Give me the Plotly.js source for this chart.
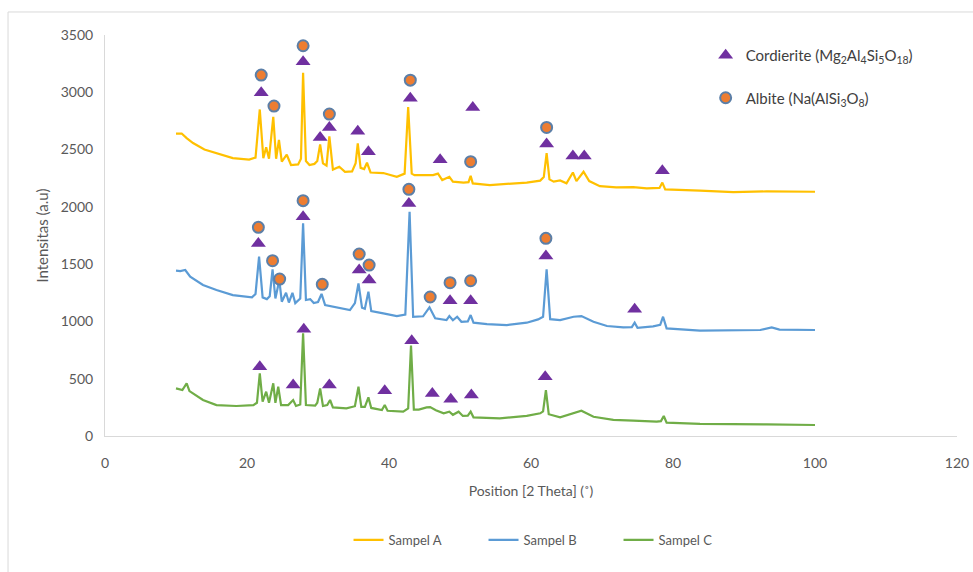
<!DOCTYPE html>
<html>
<head>
<meta charset="utf-8">
<script src="https://cdn.plot.ly/plotly-3.0.1.min.js"></script>
<style>html,body{margin:0;padding:0;background:#fff;}#chart{width:973px;height:572px;}</style>
</head>
<body>
<div id="chart"></div>
<script>
// Sample A (yellow)
const aX = [10,10.8,11.5,12.4,14,15.7,18,20.3,21.2,21.8,22.3,22.7,23.1,23.7,24.1,24.5,24.9,25.6,26.2,27.2,27.6,27.9,28.3,28.8,29.5,29.9,30.3,30.7,31.2,31.6,32.1,33,33.8,34.8,35.3,35.6,36.0,36.5,36.9,37.4,39.2,41.1,42.2,42.7,43.2,43.6,44.8,46.2,46.9,47.5,48.5,49,50.5,51.2,51.5,51.8,54.2,57,59.4,61.3,61.8,62.2,62.6,63.2,64.1,65,65.9,66.4,67.4,68.2,69.7,72,74.4,76.3,78.1,78.5,78.9,83.8,88.5,93.2,100];
const aY = [2640,2640,2600,2557,2500,2467,2426,2412,2430,2850,2425,2520,2420,2785,2420,2585,2395,2455,2365,2370,2420,3170,2400,2365,2375,2400,2545,2380,2360,2615,2325,2350,2306,2310,2380,2555,2340,2330,2385,2300,2295,2263,2290,2870,2290,2277,2277,2277,2290,2234,2262,2220,2212,2215,2270,2205,2190,2199,2212,2229,2260,2470,2240,2220,2230,2205,2300,2225,2306,2225,2181,2170,2172,2161,2165,2212,2153,2141,2129,2135,2132];
// Sample B (blue)
const bX = [10,10.6,11.3,12,13.8,15.7,18,20.7,21.2,21.7,22.2,22.8,23.2,23.6,24.0,24.55,24.9,25.5,25.9,26.4,26.8,27.5,27.9,28.3,28.9,29.4,30.0,30.5,31.0,33.1,34.5,35.2,35.7,36.2,36.6,37.1,37.5,39.2,41.1,42.3,42.9,43.4,44.8,45.7,46.5,48.1,48.5,49.0,49.6,50.2,51.1,51.5,51.9,53.8,56.6,59.4,61.0,61.7,62.2,62.7,64.1,66.0,67.1,68.8,70.7,73.0,74.2,74.6,75.0,77.2,78.2,78.6,79.1,83.8,88.5,92.3,93.9,95,100];
const bY = [1443,1440,1449,1390,1318,1274,1230,1210,1240,1565,1210,1195,1220,1455,1200,1360,1172,1250,1165,1250,1160,1200,1856,1187,1195,1160,1170,1240,1143,1114,1099,1160,1332,1120,1110,1260,1090,1070,1047,1060,1957,1041,1045,1123,1027,1012,1047,1010,1041,997,1000,1056,989,977,968,989,1018,1040,1454,1020,1012,1041,1047,997,960,948,950,989,945,957,970,1041,939,919,919,925,948,928,925];
// Sample C (green)
const cX = [10,10.9,11.5,11.9,13.8,15.7,18.5,20.9,21.4,21.8,22.2,22.7,23.1,23.7,24.0,24.4,24.8,25.8,26.5,26.9,27.5,27.9,28.3,29.6,29.9,30.3,30.7,31.3,31.7,32.1,34.0,35.2,35.7,36.1,36.6,37.1,37.5,39.0,39.4,39.8,42.0,42.7,43.1,43.5,44.2,45.3,45.8,46.6,47.7,48.5,49.0,49.8,50.4,51.1,51.5,51.9,55.6,59.4,61.3,61.7,62.1,62.5,64.1,66.0,67.1,68.8,71.6,74.4,77.7,78.3,78.7,79.1,83.8,93.2,100];
const cY = [416,401,460,392,314,270,262,270,290,547,299,387,290,460,290,430,270,270,314,262,275,896,270,265,290,416,262,270,314,250,241,260,430,255,255,337,245,227,270,220,212,240,790,230,230,250,252,225,198,212,185,212,175,178,212,163,154,175,198,215,401,190,163,198,221,168,140,134,125,130,175,116,105,102,96];

// Phase markers (Cordierite = triangles, Albite = circles)
const cordAX = [22.0,27.9,30.3,31.6,35.6,37.1,43.0,47.2,51.8,62.2,65.9,67.5,78.5];
const cordAY = [2996,3267,2606,2693,2659,2481,2947,2411,2868,2548,2443,2443,2315];
const cordBX = [21.6,27.9,35.8,37.2,42.8,48.6,51.5,62.1,74.6];
const cordBY = [1681,1914,1449,1361,2030,1181,1181,1571,1106];
const cordCX = [21.8,26.5,28.0,31.6,39.4,43.2,46.1,48.7,51.6,62.0];
const cordCY = [605,445,931,445,395,832,370,320,358,518];
const albAX = [22.0,23.8,27.9,31.6,43.0,51.5,62.2];
const albAY = [3150,2880,3406,2810,3106,2394,2693];
const albBX = [21.6,23.6,24.6,27.9,30.6,35.8,37.2,42.8,45.8,48.6,51.5,62.1];
const albBY = [1821,1530,1370,2054,1324,1588,1492,2153,1213,1338,1355,1725];

const seriesNames = ['Sampel A','Sampel B','Sampel C'];
const phaseNames = ['Cordierite (Mg<sub>2</sub>Al<sub>4</sub>Si<sub>5</sub>O<sub>18</sub>)','Albite (Na(AlSi<sub>3</sub>O<sub>8</sub>)'];

const FONT = 'Lato, "Open Sans", sans-serif';
const lineTrace = (x,y,name,color)=>({x,y,name,type:'scatter',mode:'lines',line:{color,width:2.2},legend:'legend2',hoverinfo:'skip'});

const traces = [
  lineTrace(aX,aY,seriesNames[0],'#FFC000'),
  lineTrace(bX,bY,seriesNames[1],'#5B9BD5'),
  lineTrace(cX,cY,seriesNames[2],'#70AD47'),
  {x:cordAX.concat(cordBX,cordCX), y:cordAY.concat(cordBY,cordCY), name:phaseNames[0], type:'scatter', mode:'markers',
   marker:{symbol:'triangle-up',size:13,color:'#7030A0'}, legend:'legend', legendgroup:'c', hoverinfo:'skip'},
  {x:albAX.concat(albBX), y:albAY.concat(albBY), name:phaseNames[1], type:'scatter', mode:'markers',
   marker:{symbol:'circle',size:11,color:'#ED7D31',line:{color:'#5B7FA8',width:2}}, legend:'legend', legendgroup:'a', hoverinfo:'skip'}
];

const layout = {
  width:973, height:572,
  margin:{l:105,r:16,t:35,b:136},
  paper_bgcolor:'#fff', plot_bgcolor:'#fff',
  font:{family:FONT,color:'#595959',size:14},
  showlegend:true,
  hovermode:false,
  xaxis:{range:[0,120],dtick:20,tick0:0,showgrid:false,zeroline:false,showline:true,linecolor:'#d9d9d9',linewidth:1,
    ticks:'',ticklabelstandoff:14,tickfont:{size:14,color:'#595959'},
    title:{text:'Position [2 Theta] (˚)',font:{size:14,color:'#595959'},standoff:16}},
  yaxis:{range:[0,3500],dtick:500,tick0:0,showgrid:false,zeroline:false,showline:true,linecolor:'#d9d9d9',linewidth:1,
    ticks:'',ticklabelstandoff:8,tickfont:{size:14,color:'#595959'},
    title:{text:'Intensitas (a.u)',font:{size:15,color:'#595959'},standoff:8}},
  legend:{x:0.705,y:0.99,xanchor:'left',yanchor:'top',bgcolor:'rgba(0,0,0,0)',tracegroupgap:20,
    font:{size:15,color:'#404040',family:FONT},itemwidth:30},
  legend2:{orientation:'h',x:0.5235,y:-0.222,xanchor:'center',yanchor:'top',bgcolor:'rgba(0,0,0,0)',
    font:{size:13,color:'#595959',family:FONT},itemwidth:30,entrywidth:90},
  shapes:[{type:'rect',xref:'paper',yref:'paper',x0:-0.1138,x1:1.03,y0:-0.5,y1:1.0574,line:{color:'#d9d9d9',width:1},fillcolor:'rgba(0,0,0,0)',layer:'below'}]
};

Plotly.newPlot('chart',traces,layout,{displayModeBar:false,staticPlot:true});
</script>
</body>
</html>
